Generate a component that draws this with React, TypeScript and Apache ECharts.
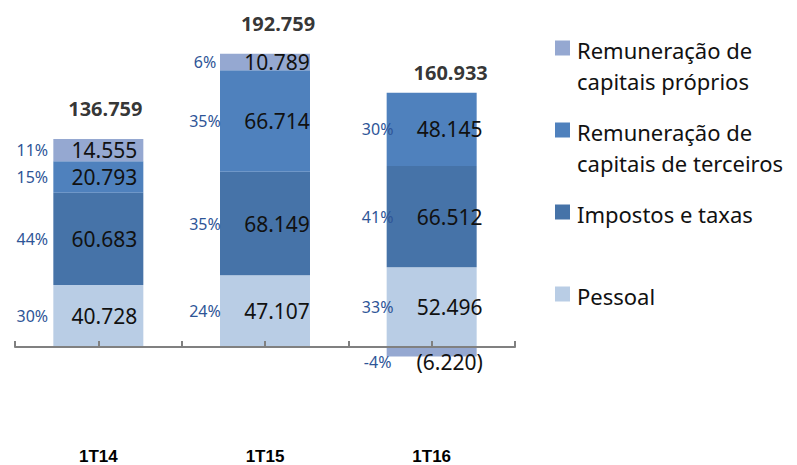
import React, { useEffect, useRef } from 'react';
import * as echarts from 'echarts';

// ---- data ----
const categories = ['1T14', '1T15', '1T16'];
const pessoal = [40728, 47107, 52496];
const impostos = [60683, 68149, 66512];
const terceiros = [20793, 66714, 48145];
const proprios = [14555, 10789, -6220];

const seriesNames = [
  'Pessoal',
  'Impostos e taxas',
  'Remuneração de capitais de terceiros',
  'Remuneração de capitais próprios',
];
const legendLabels: Record<string, string> = {
  'Remuneração de capitais próprios': 'Remuneração de\ncapitais próprios',
  'Remuneração de capitais de terceiros': 'Remuneração de\ncapitais de terceiros',
  'Impostos e taxas': 'Impostos e taxas',
  Pessoal: 'Pessoal',
};
const seriesValues = [pessoal, impostos, terceiros, proprios];
const colors = ['#B9CDE5', '#4673A8', '#4F81BD', '#95A8D1'];

const FONT = '"Noto Sans", "Open Sans", sans-serif';

const fmt = (v: number) => {
  const s = Math.abs(v)
    .toString()
    .replace(/\B(?=(\d{3})+(?!\d))/g, '.');
  return v < 0 ? `(${s})` : s;
};

const netTotals = categories.map((_, i) =>
  seriesValues.reduce((acc, arr) => acc + arr[i], 0)
);

export default function App() {
  const ref = useRef<HTMLDivElement>(null);

  useEffect(() => {
    if (!ref.current) return;
    const chart = echarts.init(ref.current, undefined, { renderer: 'svg' });

    const barSeries = seriesValues.map((vals, si) => ({
      name: seriesNames[si],
      type: 'bar',
      stack: 'total',
      barWidth: '54%',
      xAxisIndex: 0,
      itemStyle: { color: colors[si] },
      label: {
        show: true,
        formatter: (p: any) => {
          const v = p.value as number;
          const pct = Math.round((v / netTotals[p.dataIndex]) * 100);
          return `{p|${pct}%}{v|${fmt(v)}}{e|}`;
        },
        rich: {
          p: {
            width: 54,
            align: 'center',
            fontSize: 16,
            fontFamily: FONT,
            color: '#2E5597',
          },
          v: {
            width: 90,
            align: 'center',
            fontSize: 21,
            fontFamily: FONT,
            color: '#111111',
          },
          e: { width: 54 },
        },
      },
      data: vals.map((v, i) => ({
        value: v,
        label: {
          position: v < 0 ? 'outside' : 'inside',
          distance: 0,
          offset: [6 + 6 * i, v < 0 ? -5 : 0],
        },
      })),
    }));

    const totalSeries = {
      name: 'Total',
      type: 'scatter',
      xAxisIndex: 0,
      symbolSize: 1,
      silent: true,
      itemStyle: { color: 'rgba(0,0,0,0)' },
      label: {
        show: true,
        position: 'inside',
        formatter: (p: any) => fmt(p.value as number),
        fontSize: 20,
        fontWeight: 'bold',
        fontFamily: FONT,
        color: '#000000',
      },
      data: netTotals.map((v, i) => ({
        value: v,
        label: { offset: [7 + 6 * i, -30] },
      })),
    };

    const legendOrder = [...seriesNames].reverse();
    const legendGraphics: any[] = [];
    legendOrder.forEach((name, k) => {
      const cy = 48 + k * 82;
      const si = seriesNames.indexOf(name);
      legendGraphics.push({
        type: 'rect',
        left: 555,
        top: cy - 7.5,
        shape: { width: 15, height: 15 },
        style: { fill: colors[si] },
      });
      legendGraphics.push({
        type: 'text',
        x: 577,
        y: cy - 14,
        style: {
          text: legendLabels[name],
          font: `22px ${FONT}`,
          lineHeight: 31,
          fill: '#111111',
          verticalAlign: 'top',
          align: 'left',
        },
      });
    });

    chart.setOption({
      animation: false,
      grid: {
        left: 15,
        right: 282,
        top: 12.4,
        bottom: 87.6,
        containLabel: false,
        outerBoundsMode: 'none',
      },
      xAxis: [
        {
          type: 'category',
          data: categories,
          axisLine: { show: false, onZero: false },
          axisTick: { show: false },
          axisLabel: {
            margin: 71,
            fontSize: 17,
            fontWeight: 'bold',
            fontFamily: '"Liberation Sans", Arial, sans-serif',
            color: '#000000',
          },
        },
        {
          type: 'value',
          min: 0,
          max: 6,
          interval: 1,
          position: 'bottom',
          z: 10,
          axisLine: {
            show: true,
            onZero: true,
            onZeroAxisIndex: 0,
            lineStyle: { color: '#808080', width: 2 },
          },
          axisTick: { show: true, inside: true, length: 6, lineStyle: { color: '#808080', width: 2 } },
          axisLabel: { show: false },
          splitLine: { show: false },
        },
      ],
      yAxis: {
        type: 'value',
        min: -20000,
        max: 220000,
        show: false,
        axisLine: { onZero: false },
        splitLine: { show: false },
      },
      graphic: legendGraphics,
      series: [...barSeries, totalSeries],
    });

    return () => chart.dispose();
  }, []);

  return (
    <div
      ref={ref}
      style={{ position: 'absolute', left: 0, top: 0, width: 797, height: 465, background: '#ffffff' }}
    />
  );
}
